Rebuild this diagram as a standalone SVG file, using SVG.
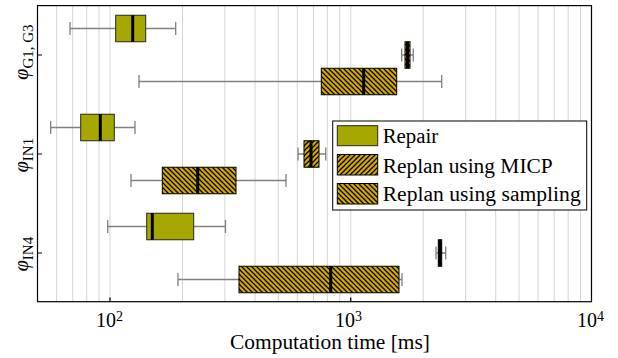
<svg xmlns="http://www.w3.org/2000/svg" width="618" height="358" viewBox="0 0 618 358">
<style>
.grid{stroke:#d6d6d6;stroke-width:1;fill:none}
.axis{stroke:#000;stroke-width:1.2;fill:none}
.wh{stroke:#808080;stroke-width:1.3;fill:none}
.rep{fill:#a6a800;stroke:#262626;stroke-width:1}
.micp{fill:url(#ne);stroke:#000;stroke-width:1}
.samp{fill:url(#nw);stroke:#000;stroke-width:1}
.med{stroke:#000;stroke-width:3;fill:none}
</style>
<defs>
<pattern id="nw" patternUnits="userSpaceOnUse" width="5" height="5">
<rect width="5" height="5" fill="#d4aa00"/>
<path d="M0,0L5,5M-1,4L1,6M4,-1L6,1" stroke="#000" stroke-width="1.25"/>
</pattern>
<pattern id="ne" patternUnits="userSpaceOnUse" width="5" height="5">
<rect width="5" height="5" fill="#d4aa00"/>
<path d="M0,5L5,0M-1,1L1,-1M4,6L6,4" stroke="#000" stroke-width="1.25"/>
</pattern>
</defs>
<rect width="618" height="358" fill="#fff"/>
<g id="grid" class="grid">
<path d="M56.6,5.5V301.7M72.7,5.5V301.7M86.7,5.5V301.7M99,5.5V301.7M110,5.5V301.7M182.5,5.5V301.7M224.9,5.5V301.7M255,5.5V301.7M278.3,5.5V301.7M297.3,5.5V301.7M313.5,5.5V301.7M327.4,5.5V301.7M339.7,5.5V301.7M350.75,5.5V301.7M423.2,5.5V301.7M465.6,5.5V301.7M495.7,5.5V301.7M519,5.5V301.7M538.1,5.5V301.7M554.2,5.5V301.7M568.2,5.5V301.7M580.5,5.5V301.7"/>
</g>
<g id="connectors" class="wh">
<path d="M70,28.5H115.7M145.7,28.5H175.7M70,21.9V35.1M175.7,21.9V35.1"/>
<path d="M401.7,55H405M410,55H413.3M401.7,48.4V61.6M413.3,48.4V61.6"/>
<path d="M139,81.5H321.3M396.7,81.5H441.7M139,74.9V88.1M441.7,74.9V88.1"/>
<path d="M50.7,127.5H80.7M114.3,127.5H135M50.7,120.9V134.1M135,120.9V134.1"/>
<path d="M298,154H304M319,154H325.7M298,147.4V160.6M325.7,147.4V160.6"/>
<path d="M131,180.5H162.3M236,180.5H286M131,173.9V187.1M286,173.9V187.1"/>
<path d="M107.7,226.5H146.7M193.7,226.5H225.5M107.7,219.9V233.1M225.5,219.9V233.1"/>
<path d="M436,253H438.3M441.7,253H445.7M436,246.4V259.6M445.7,246.4V259.6"/>
<path d="M178,279.5H239M399,279.5H402M178,272.9V286.1M402,272.9V286.1"/>
</g>
<g id="g13-repair"><rect class="rep" x="115.7" y="15.25" width="30" height="26.5"/><path class="med" d="M132.7,15.25V41.75"/></g>
<g id="g13-micp"><rect class="micp" x="405" y="41.75" width="5" height="26.5"/><path class="med" d="M407.5,41.75V68.25" stroke-width="1.5"/></g>
<g id="g13-sampling"><rect class="samp" x="321.3" y="68.25" width="75.4" height="26.5"/><path class="med" d="M363.7,68.25V94.75"/></g>
<g id="in1-repair"><rect class="rep" x="80.7" y="114.25" width="33.6" height="26.5"/><path class="med" d="M100.3,114.25V140.75"/></g>
<g id="in1-micp"><rect class="micp" x="304" y="140.75" width="15" height="26.5"/><path class="med" d="M311,140.75V167.25" stroke-width="1.5"/></g>
<g id="in1-sampling"><rect class="samp" x="162.3" y="167.25" width="73.7" height="26.5"/><path class="med" d="M197.7,167.25V193.75"/></g>
<g id="in4-repair"><rect class="rep" x="146.7" y="213.25" width="47" height="26.5"/><path class="med" d="M152.3,213.25V239.75"/></g>
<g id="in4-micp"><rect class="micp" x="438.3" y="239.75" width="3.4" height="26.5"/><path class="med" d="M440,239.75V266.25" stroke-width="1.5"/></g>
<g id="in4-sampling"><rect class="samp" x="239" y="266.25" width="160" height="26.5"/><path class="med" d="M330.7,266.25V292.75"/></g>
<g id="axes" font-family="Liberation Serif, DejaVu Serif, serif" fill="#000">
<rect class="axis" x="37.5" y="5.6" width="554" height="296.1"/>
<path class="axis" d="M110,301.7V297.5M350.75,301.7V297.5M37.5,55H42M37.5,154H42M37.5,253H42"/>
<text x="96" y="326.7" font-size="20">10<tspan font-size="14" dy="-6">2</tspan></text>
<text x="335" y="326.7" font-size="20">10<tspan font-size="14" dy="-6">3</tspan></text>
<text x="577" y="326.7" font-size="20">10<tspan font-size="14" dy="-6">4</tspan></text>
<text x="230" y="349.3" font-size="20" textLength="200" lengthAdjust="spacingAndGlyphs">Computation time [ms]</text>
<text transform="translate(27.5,52) rotate(-90)" text-anchor="middle" font-size="20"><tspan font-style="italic">φ</tspan><tspan font-size="15" dy="5">G1, G3</tspan></text>
<text transform="translate(27.5,155) rotate(-90)" text-anchor="middle" font-size="20"><tspan font-style="italic">φ</tspan><tspan font-size="15" dy="5">IN1</tspan></text>
<text transform="translate(27.5,254) rotate(-90)" text-anchor="middle" font-size="20"><tspan font-style="italic">φ</tspan><tspan font-size="15" dy="5">IN4</tspan></text>
</g>
<g id="legend" font-family="Liberation Serif, DejaVu Serif, serif" fill="#000">
<rect x="332.7" y="121" width="254" height="89" fill="#fff" stroke="#000" stroke-width="1"/>
<rect class="rep" x="337.3" y="125.7" width="40.4" height="20"/>
<rect class="micp" x="337.3" y="154.5" width="40.4" height="20.5"/>
<rect class="samp" x="337.3" y="183.5" width="40.4" height="20.5"/>
<text x="382.7" y="143.3" font-size="20" textLength="55.6" lengthAdjust="spacingAndGlyphs">Repair</text>
<text x="382.7" y="172.5" font-size="20" textLength="170" lengthAdjust="spacingAndGlyphs">Replan using MICP</text>
<text x="382.7" y="200.7" font-size="20" textLength="198" lengthAdjust="spacingAndGlyphs">Replan using sampling</text>
</g>
</svg>
